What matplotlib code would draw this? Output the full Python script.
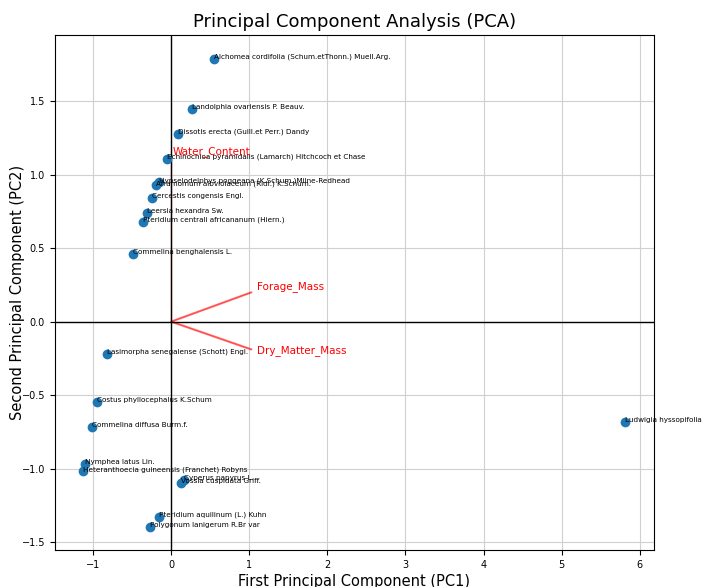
import matplotlib
matplotlib.use("Agg")

import matplotlib.pyplot as plt

# PCA scores
species = [
    "Alchomea cordifolia (Schum.etThonn.) Muell.Arg.",
    "Landolphia ovariensis P. Beauv.",
    "Dissotis erecta (Guill.et Perr.) Dandy",
    "Echinochloa pyramidalis (Lamarch) Hitchcoch et Chase",
    "Hypselodelphys poggeana (K.Schum.)Milne-Redhead",
    "Aframomum albviolaceum (Ridl.) K.Schum.",
    "Cercestis congensis Engl.",
    "Leersia hexandra Sw.",
    "Pteridium centrali africananum (Hiern.)",
    "Commelina benghalensis L.",
    "Lasimorpha senegalense (Schott) Engl.",
    "Costus phyllocephalus K.Schum",
    "Commelina diffusa Burm.f.",
    "Nymphea latus Lin.",
    "Heteranthoecia guineensis (Franchet) Robyns",
    "Cyperus papyrus L.",
    "Vossia cuspidata Griff.",
    "Pteridium aquilinum (L.) Kuhn",
    "Polygonum lanigerum R.Br var",
    "Ludwigia hyssopifolia",
]
pc1 = [0.55, 0.27, 0.09, -0.05, -0.16, -0.19, -0.24, -0.31, -0.36, -0.49,
       -0.82, -0.95, -1.01, -1.10, -1.13, 0.17, 0.13, -0.15, -0.27, 5.81]
pc2 = [1.79, 1.45, 1.28, 1.11, 0.95, 0.93, 0.84, 0.74, 0.68, 0.46,
       -0.22, -0.55, -0.72, -0.97, -1.02, -1.08, -1.10, -1.33, -1.40, -0.68]

# loading vectors
variables = ["Water_Content", "Forage_Mass", "Dry_Matter_Mass"]
load_x = [0.0, 1.03, 1.03]
load_y = [1.10, 0.20, -0.19]
text_x = [0.02, 1.10, 1.10]
text_y = [1.16, 0.24, -0.20]

fig = plt.figure(figsize=(7.03, 5.87), dpi=100)
ax = fig.add_axes([0.078, 0.063, 0.852, 0.877])

ax.scatter(pc1, pc2, s=36, color="#1f77b4", zorder=3)
for name, x, y in zip(species, pc1, pc2):
    ax.text(x, y, name, fontsize=5.2, color="black", zorder=4)

for i, var in enumerate(variables):
    ax.arrow(0, 0, load_x[i], load_y[i], color="r", alpha=0.5,
             width=0.006, head_width=0.0, head_length=0.0, zorder=2)
    ax.text(text_x[i], text_y[i], var, color="r", fontsize=7.5,
            ha="left", va="center", zorder=4)

ax.axhline(0, color="black", linewidth=1)
ax.axvline(0, color="black", linewidth=1)

ax.set_xlim(-1.49, 6.18)
ax.set_ylim(-1.555, 1.95)
ax.set_xticks(range(-1, 7))
ax.set_yticks([-1.5, -1.0, -0.5, 0.0, 0.5, 1.0, 1.5])
ax.tick_params(labelsize=7)
ax.grid(True, color="#d0d0d0", linewidth=0.8)

ax.set_title("Principal Component Analysis (PCA)", fontsize=13)
ax.set_xlabel("First Principal Component (PC1)", fontsize=10.5, labelpad=3)
ax.set_ylabel("Second Principal Component (PC2)", fontsize=10.5)
ax.yaxis.set_label_coords(-0.05, 0.5)

fig.savefig("out.png", dpi=100)
